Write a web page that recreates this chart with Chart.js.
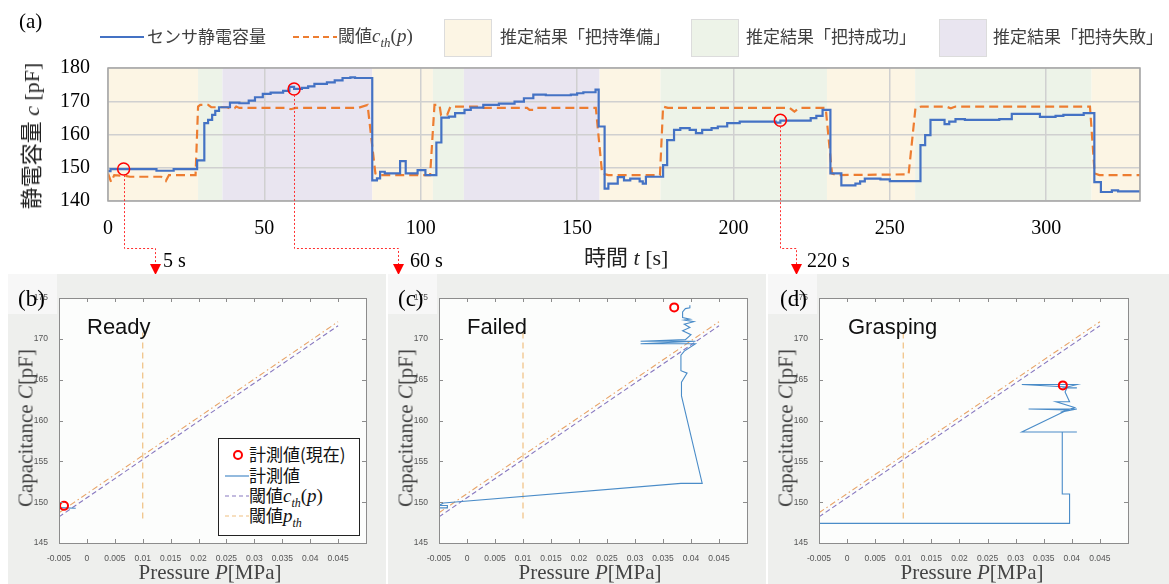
<!DOCTYPE html>
<html>
<head>
<meta charset="utf-8">
<script src="https://cdn.jsdelivr.net/npm/chart.js@4"></script>
<style>
body { margin: 0; background: #fff; }
#wrap { position: relative; width: 1169px; height: 584px; overflow: hidden; font-family: 'Liberation Serif', serif; color: #000; }
.abs { position: absolute; white-space: nowrap; line-height: 1; }
.jp { font-family: 'Noto Sans CJK JP', sans-serif; }
.m { font-family: 'Liberation Serif', serif; font-style: italic; }
.box { position: absolute; top: 19px; width: 48px; height: 38px; border: 1px solid #dcdcdc; box-sizing: border-box; }
.panel { position: absolute; top: 274px; height: 310px; background: #eeefed; }
.panel canvas { position: absolute; left: 0; top: 0; }
.tagbox { position: absolute; left: 0; top: 0; width: 49px; height: 40px; background: #f7f7f7; }
.tag { position: absolute; top: 12px; font-size: 23px; }
.state { position: absolute; top: 40px; font-family: 'Liberation Sans', sans-serif; font-size: 22px; color: #111; }
.ytitle { position: absolute; font-size: 21px; color: #444; transform: translate(-50%, -50%) rotate(-90deg); white-space: nowrap; }
.xtitle { position: absolute; top: 286px; font-size: 21px; color: #444; transform: translateX(-50%); white-space: nowrap; }
</style>
</head>
<body>
<div id="wrap">
  <canvas id="top" width="1169" height="275" style="position:absolute;left:0;top:0"></canvas>

  <div class="abs" style="left:19px;top:11px;font-size:21px">(a)</div>
  <svg class="abs" style="left:100px;top:30px" width="44" height="14"><line x1="0" y1="7" x2="44" y2="7" stroke="#4472c4" stroke-width="2.2"/></svg>
  <div class="abs jp" style="left:147px;top:27px;font-size:17px;color:#404040">センサ静電容量</div>
  <svg class="abs" style="left:293px;top:30px" width="44" height="14"><line x1="0" y1="7" x2="44" y2="7" stroke="#ed7d31" stroke-width="2" stroke-dasharray="6,4"/></svg>
  <div class="abs" style="left:338px;top:26px;font-size:17px;color:#404040"><span class="jp">閾値</span><span class="m" style="font-size:19px">c<sub style="font-size:13px">th</sub></span><span style="font-size:19px">(<span class="m">p</span>)</span></div>
  <div class="box" style="left:444px;background:#fcf5e4"></div>
  <div class="abs jp" style="left:500px;top:27px;font-size:17px;color:#404040">推定結果「把持準備」</div>
  <div class="box" style="left:691px;background:#edf3e8"></div>
  <div class="abs jp" style="left:746px;top:27px;font-size:17px;color:#404040">推定結果「把持成功」</div>
  <div class="box" style="left:939px;background:#e9e5f0"></div>
  <div class="abs jp" style="left:993px;top:27px;font-size:17px;color:#404040">推定結果「把持失敗」</div>

  <div class="ytitle" style="left:29px;top:136px;color:#222;font-size:22px"><span class="jp">静電容量</span> <span class="m">c</span> [pF]</div>
  <div class="abs" style="left:584px;top:244px;font-size:22px;color:#222"><span class="jp">時間</span> <span class="m">t</span> [s]</div>
  <div class="abs" style="left:163px;top:250px;font-size:20px">5 s</div>
  <div class="abs" style="left:410px;top:250px;font-size:20px">60 s</div>
  <div class="abs" style="left:807px;top:250px;font-size:20px">220 s</div>

  <div class="panel" style="left:8px;width:378px">
    <div class="tagbox"></div>
    <canvas id="pb" width="378" height="310"></canvas>
    <div class="tag" style="left:10px">(b)</div>
    <div class="state" style="left:79px">Ready</div>
    <div class="ytitle" style="left:18px;top:154px">Capacitance <span class="m">C</span>[pF]</div>
    <div class="xtitle" style="left:202px">Pressure <span class="m">P</span>[MPa]</div>
    <div style="position:absolute;left:210px;top:164px;width:142px;height:98px;background:#fff;border:1px solid #222;box-sizing:border-box">
      <svg style="position:absolute;left:0;top:0" width="40" height="96">
        <circle cx="19" cy="16" r="4" fill="none" stroke="#ff0000" stroke-width="2"/>
        <line x1="6" y1="37" x2="30" y2="37" stroke="#4a8cc8" stroke-width="1.2"/>
        <line x1="6" y1="57" x2="30" y2="57" stroke="#8878c0" stroke-width="1.2" stroke-dasharray="4,3"/>
        <line x1="6" y1="77" x2="30" y2="77" stroke="#f0c080" stroke-width="1.2" stroke-dasharray="4,3"/>
      </svg>
      <div class="abs jp" style="left:30px;top:6px;font-size:17px;color:#111">計測値(現在)</div>
      <div class="abs jp" style="left:30px;top:27px;font-size:17px;color:#111">計測値</div>
      <div class="abs" style="left:30px;top:47px;font-size:17px;color:#111"><span class="jp">閾値</span><span class="m" style="font-size:19px">c<sub style="font-size:12px">th</sub></span><span style="font-size:19px">(<span class="m">p</span>)</span></div>
      <div class="abs" style="left:30px;top:67px;font-size:17px;color:#111"><span class="jp">閾値</span><span class="m" style="font-size:19px">p<sub style="font-size:12px">th</sub></span></div>
    </div>
  </div>

  <div class="panel" style="left:388px;width:378px">
    <div class="tagbox"></div>
    <canvas id="pc" width="378" height="310"></canvas>
    <div class="tag" style="left:10px">(c)</div>
    <div class="state" style="left:79px">Failed</div>
    <div class="ytitle" style="left:18px;top:154px">Capacitance <span class="m">C</span>[pF]</div>
    <div class="xtitle" style="left:202px">Pressure <span class="m">P</span>[MPa]</div>
  </div>

  <div class="panel" style="left:768px;width:401px">
    <div class="tagbox"></div>
    <canvas id="pd" width="401" height="310"></canvas>
    <div class="tag" style="left:12px">(d)</div>
    <div class="state" style="left:80px">Grasping</div>
    <div class="ytitle" style="left:18px;top:154px">Capacitance <span class="m">C</span>[pF]</div>
    <div class="xtitle" style="left:204px">Pressure <span class="m">P</span>[MPa]</div>
  </div>
</div>

<script>
// (a) time series: sensor capacitance (stepped) and threshold c_th(p)
const sensorT = [0, 0.8, 15.5, 21, 28.5, 30.8, 32, 33.3, 34.3, 35.5, 39, 42, 45, 47, 49.5, 52, 56, 58, 59.5, 62, 64, 66, 70, 72.5, 75, 77.5, 79,
  84.5, 86, 87, 88.5, 93.4, 95.2, 99, 101.5, 105, 106.6, 109, 111, 114, 116, 120, 125, 130, 133, 136, 140, 148, 150, 152, 155.9,
  156.9, 158.8, 160, 163, 165, 167, 170, 171, 172, 177.5, 178.8, 181, 183, 186, 188, 190, 193, 195, 198, 202, 213.5, 215, 224.7,
  226.5, 228.5, 231, 234.5, 239, 240.5, 242, 247, 250, 259.8, 261.3, 263, 267.5, 269, 271, 274, 285, 289, 298, 303, 305.5, 312,
  315.4, 317.5, 321, 323, 330];
const sensorC = [149.0, 149.6, 149.1, 149.6, 152.2, 163.4, 164.4, 165.9, 167.1, 168.2, 169.6, 169.4, 170.2, 171.2, 172.2, 172.6, 173.1, 174.3, 173.7, 174.0, 174.5, 175.2, 175.7, 176.3, 177.0, 177.2, 177.0,
  146.2, 146.8, 148.8, 148.3, 152.0, 148.3, 149.3, 147.8, 157.6, 165.1, 165.4, 166.4, 167.4, 168.1, 168.9, 169.3, 169.9, 170.9, 172.0, 171.8, 172.0, 172.4, 172.7, 173.5,
  162.4, 143.7, 145.2, 147.2, 146.2, 146.7, 145.9, 145.2, 147.3, 150.8, 158.3, 161.4, 161.9, 161.4, 160.4, 161.4, 161.9, 162.4, 163.4, 163.9, 163.6, 164.2, 164.9,
  165.6, 167.4, 148.3, 144.7, 145.2, 145.9, 146.7, 146.5, 146.0, 156.8, 159.8, 164.4, 163.1, 163.9, 164.6, 164.4, 164.6, 166.2, 165.3, 165.6, 165.9, 166.4,
  145.7, 142.7, 143.2, 142.9, 142.9];

const thrT = [0, 1, 2, 6, 7, 17, 18.5, 19.5, 28, 28.8, 29.5, 32, 33, 38, 39, 40.5, 41, 42, 57, 58.5, 60, 80, 83, 85.5, 87, 103,
  104.4, 106, 106.5, 108.5, 109.5, 118, 120, 134, 134.8, 136.3, 137, 156, 158, 160, 176.5, 177.5, 179, 218, 219.5, 221, 229.5,
  231.5, 233, 256, 258.2, 260, 268, 269.5, 271, 314, 315.5, 317, 330];
const thrC = [148.3, 145.7, 147.8, 147.5, 147.3, 147.3, 146.0, 147.8, 147.8, 168.4, 168.9, 168.9, 168.2, 168.2, 167.9, 167.9, 168.4, 168.0, 168.0, 167.6, 168.0, 168.0, 168.9, 148.3, 147.8, 147.8,
  168.9, 168.9, 165.8, 166.0, 168.4, 168.4, 168.0, 168.0, 167.4, 167.4, 168.0, 168.0, 148.3, 147.8, 147.8, 168.4, 168.0, 168.0, 166.9, 168.0, 168.0,
  148.3, 147.8, 148.0, 167.9, 168.4, 168.4, 167.9, 168.4, 168.4, 148.3, 147.8, 147.8];

// estimated state bands
const bandStart = [0, 28.8, 36.6, 84.5, 103.9, 113.8, 157.2, 176.7, 229.9, 258.1, 314.5];
const bandEnd = [28.8, 36.6, 84.5, 103.9, 113.8, 157.2, 176.7, 229.9, 258.1, 314.5, 330];
const bandState = ['ready', 'ok', 'fail', 'ready', 'ok', 'fail', 'ready', 'ok', 'ready', 'ok', 'ready'];
const bandColor = { ready: '#fcf5e4', ok: '#edf3e8', fail: '#e9e5f0' };

// snapshots shown in (b)(c)(d)
const snapT = [5, 59.5, 215];
const snapC = [149.6, 173.7, 164.3];
const snapArrowX = [155, 398, 796];

// (b)(c)(d) C-P plane
const cthP = [-0.005, 0.045];
const cthUpper = [148.7, 172.1];
const cthLower = [148.2, 171.6];
const pthP = [0.01, 0.01];
const pthC = [148.0, 171.0];

const readyP = [-0.005, -0.0038, -0.0020];
const readyC = [149.35, 149.3, 149.25];
const readyNow = [-0.0041, 149.55];

const failP = [-0.005, -0.0035, -0.0035, -0.005, -0.0042, 0.0382, 0.0420, 0.0383, 0.0383, 0.0393, 0.0382, 0.0382, 0.0388, 0.0408, 0.0310, 0.0408, 0.0310, 0.0390, 0.0400, 0.0385, 0.0398, 0.0388, 0.0405, 0.0388, 0.0398, 0.0385, 0.0385, 0.0390, 0.0398, 0.0398];
const failC = [149.3, 149.3, 149.6, 149.6, 149.9, 152.3, 152.3, 163.0, 164.7, 165.8, 166.1, 168.0, 168.5, 169.4, 169.4, 169.7, 169.7, 169.9, 170.5, 171.0, 171.4, 171.8, 172.1, 172.3, 172.4, 172.6, 173.3, 173.7, 173.8, 174.1];
const failNow = [0.0370, 173.85];

const graspP = [-0.005, 0.0396, 0.0396, 0.0383, 0.0383, 0.0409, 0.0311, 0.0392, 0.0323, 0.0409, 0.0380, 0.0405, 0.0372, 0.0396, 0.0388, 0.0392, 0.0311, 0.0409, 0.0386, 0.0409];
const graspC = [147.4, 147.4, 151.0, 151.0, 158.6, 158.6, 158.6, 161.3, 161.4, 161.4, 161.0, 161.6, 162.3, 162.3, 163.5, 164.1, 164.4, 164.4, 164.0, 164.0];
const graspNow = [0.0384, 164.3];

const xy = (xs, ys) => xs.map((x, i) => ({ x: x, y: ys[i] }));

Chart.defaults.font.family = "'Liberation Serif', serif";

const bands = {
  id: 'bands',
  beforeDraw(chart) {
    const { ctx, chartArea: a, scales: { x } } = chart;
    ctx.save();
    bandStart.forEach((s, i) => {
      const x0 = x.getPixelForValue(s), x1 = x.getPixelForValue(bandEnd[i]);
      ctx.fillStyle = bandColor[bandState[i]];
      ctx.fillRect(x0, a.top, x1 - x0, a.bottom - a.top);
    });
    ctx.restore();
  }
};

const plotBorder = {
  id: 'plotBorder',
  afterDatasetsDraw(chart) {
    const { ctx, chartArea: a } = chart;
    ctx.save();
    ctx.strokeStyle = '#a6a6a6';
    ctx.lineWidth = 1.5;
    ctx.strokeRect(a.left, a.top, a.right - a.left, a.bottom - a.top);
    ctx.restore();
  }
};

const snapLines = {
  id: 'snapLines',
  afterDraw(chart) {
    const { ctx, scales: { x, y } } = chart;
    ctx.save();
    ctx.strokeStyle = '#ff3030';
    ctx.lineWidth = 1;
    ctx.setLineDash([2, 2]);
    snapT.forEach((t, i) => {
      const px = Math.round(x.getPixelForValue(t)) + 0.5;
      const py = y.getPixelForValue(snapC[i]) + 6;
      const ax = snapArrowX[i] + 0.5;
      ctx.beginPath();
      ctx.moveTo(px, py);
      ctx.lineTo(px, 248.5);
      ctx.lineTo(ax, 248.5);
      ctx.lineTo(ax, 266);
      ctx.stroke();
    });
    ctx.setLineDash([]);
    ctx.fillStyle = '#ff0000';
    snapArrowX.forEach(ax => {
      ctx.beginPath();
      ctx.moveTo(ax - 5, 264);
      ctx.lineTo(ax + 6, 264);
      ctx.lineTo(ax + 0.5, 275);
      ctx.closePath();
      ctx.fill();
    });
    ctx.restore();
  }
};

new Chart(document.getElementById('top'), {
  type: 'line',
  data: {
    datasets: [{
      data: xy(snapT, snapC),
      showLine: false,
      pointRadius: 6,
      pointBorderWidth: 1.5,
      pointBorderColor: '#ff0000',
      pointBackgroundColor: 'rgba(0,0,0,0)'
    }, {
      data: xy(sensorT, sensorC),
      borderColor: '#4472c4',
      borderWidth: 2.2,
      pointRadius: 0,
      stepped: true
    }, {
      data: xy(thrT, thrC),
      borderColor: '#ed7d31',
      borderWidth: 2.2,
      borderDash: [9, 5],
      pointRadius: 0
    }]
  },
  options: {
    responsive: false,
    animation: false,
    layout: { padding: { top: 68, right: 29, left: 0, bottom: 0 } },
    plugins: { legend: { display: false }, tooltip: { enabled: false } },
    scales: {
      x: {
        type: 'linear', min: 0, max: 330,
        ticks: { stepSize: 50, autoSkip: false, maxRotation: 0, padding: 16, color: '#000', font: { size: 20 },
          callback: v => (v % 50 === 0 ? v : '') },
        grid: { color: '#d0d0d0', lineWidth: 1.5, drawTicks: false },
        border: { display: false },
        afterFit: s => { s.height = 74; }
      },
      y: {
        min: 140, max: 180,
        ticks: { stepSize: 10, padding: 18, color: '#000', font: { size: 20 } },
        grid: { color: '#d0d0d0', lineWidth: 1.5, drawTicks: false },
        border: { display: false },
        afterFit: s => { s.width = 108; }
      }
    }
  },
  plugins: [bands, plotBorder, snapLines]
});

// MATLAB-like frame with inward ticks
const frame = {
  id: 'frame',
  beforeDraw(chart) {
    const { ctx, chartArea: a } = chart;
    ctx.save();
    ctx.fillStyle = '#fcfdfc';
    ctx.fillRect(a.left, a.top, a.right - a.left, a.bottom - a.top);
    ctx.restore();
  },
  afterDatasetsDraw(chart) {
    const { ctx, chartArea: a, scales: { x, y } } = chart;
    ctx.save();
    ctx.strokeStyle = '#8c8c8c';
    ctx.lineWidth = 1;
    ctx.strokeRect(Math.round(a.left) + 0.5, Math.round(a.top) + 0.5, Math.round(a.right - a.left), Math.round(a.bottom - a.top));
    ctx.beginPath();
    x.ticks.forEach(t => {
      const px = Math.round(x.getPixelForValue(t.value)) + 0.5;
      ctx.moveTo(px, a.bottom); ctx.lineTo(px, a.bottom - 4);
      ctx.moveTo(px, a.top); ctx.lineTo(px, a.top + 4);
    });
    y.ticks.forEach(t => {
      const py = Math.round(y.getPixelForValue(t.value)) + 0.5;
      ctx.moveTo(a.left, py); ctx.lineTo(a.left + 4, py);
      ctx.moveTo(a.right, py); ctx.lineTo(a.right - 4, py);
    });
    ctx.stroke();
    ctx.restore();
  }
};

function planeChart(id, pathP, pathC, now, rightPad) {
  return new Chart(document.getElementById(id), {
    type: 'line',
    data: {
      datasets: [{
        data: [{ x: now[0], y: now[1] }],
        showLine: false,
        pointRadius: 4,
        pointBorderWidth: 2,
        pointBorderColor: '#ff0000',
        pointBackgroundColor: 'rgba(0,0,0,0)'
      }, {
        data: xy(pathP, pathC),
        borderColor: '#4a8cc8',
        borderWidth: 1.1,
        pointRadius: 0
      }, {
        data: xy(cthP, cthLower),
        borderColor: '#8878c0',
        borderWidth: 1.1,
        borderDash: [5, 3],
        pointRadius: 0
      }, {
        data: xy(cthP, cthUpper),
        borderColor: '#e8a468',
        borderWidth: 1.1,
        borderDash: [6, 3, 1.5, 3],
        pointRadius: 0
      }, {
        data: xy(pthP, pthC),
        borderColor: '#f0c080',
        borderWidth: 1.2,
        borderDash: [6, 4],
        pointRadius: 0
      }]
    },
    options: {
      responsive: false,
      animation: false,
      layout: { padding: { top: 24, right: rightPad, left: 0, bottom: 0 } },
      plugins: { legend: { display: false }, tooltip: { enabled: false } },
      scales: {
        x: {
          type: 'linear', min: -0.005, max: 0.05,
          ticks: { stepSize: 0.005, autoSkip: false, maxRotation: 0, padding: 3, color: '#555',
            font: { family: "'Liberation Sans', sans-serif", size: 8.5 },
            callback: v => (v > 0.0455 ? '' : String(Number(v.toFixed(3)))) },
          grid: { display: false },
          border: { display: false },
          afterFit: s => { s.height = 41; }
        },
        y: {
          min: 145, max: 175,
          ticks: { stepSize: 5, padding: 3, color: '#555',
            font: { family: "'Liberation Sans', sans-serif", size: 8.5 } },
          grid: { display: false },
          border: { display: false },
          afterFit: s => { s.width = 51; }
        }
      }
    },
    plugins: [frame]
  });
}

planeChart('pb', readyP, readyC, readyNow, 20);
planeChart('pc', failP, failC, failNow, 19);
planeChart('pd', graspP, graspC, graspNow, 41);
</script>
</body>
</html>
